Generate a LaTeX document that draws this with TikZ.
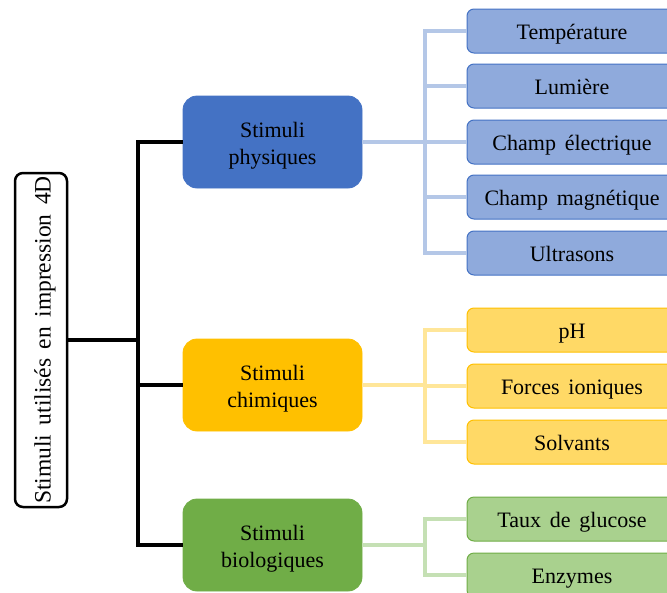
\documentclass[tikz,border=0pt]{standalone}
\usepackage{fontspec}
\setmainfont{Liberation Serif}[WordSpace=1.6]
\usepackage{tikz}
\usetikzlibrary{positioning}
\definecolor{physBlue}{RGB}{68,114,196}
\definecolor{physLight}{RGB}{143,170,220}
\definecolor{physLine}{RGB}{180,199,231}
\definecolor{chimGold}{RGB}{255,192,0}
\definecolor{chimLight}{RGB}{255,217,102}
\definecolor{chimLine}{RGB}{255,230,153}
\definecolor{bioGreen}{RGB}{112,173,71}
\definecolor{bioLight}{RGB}{169,209,142}
\definecolor{bioLine}{RGB}{197,224,180}

\begin{document}
\begin{tikzpicture}[x=1pt, y=-1pt,
    every node/.style={font=\fontsize{22}{27}\selectfont, inner sep=0pt},
    rootbox/.style={rectangle, rounded corners=8pt, draw=black, line width=2.5pt,
                    fill=white, minimum width=334pt, minimum height=52pt, rotate=90,
                    font=\fontsize{23.5}{28}\selectfont, text height=20pt, text depth=1pt},
    catbox/.style={rectangle, rounded corners=14pt, line width=0.8pt,
                   minimum width=179pt, minimum height=92pt, align=center,
                   text height=48pt, text depth=4pt},
    leafbox/.style={rectangle, rounded corners=7pt, line width=1pt,
                    minimum width=210pt, minimum height=44pt,
                    text height=20pt, text depth=3pt},
    trunk/.style={draw=black, line width=3.2pt},
    twig/.style={line width=4pt}]
\useasboundingbox (0,0) rectangle (667,592);

% main node
\node[rootbox] (root) at (41,340) {Stimuli utilisés en impression 4D};

% categories
\node[catbox, fill=physBlue, draw=physBlue] (phys) at (272.5,142) {Stimuli\\physiques};
\node[catbox, fill=chimGold, draw=chimGold] (chim) at (272.5,385) {Stimuli\\chimiques};
\node[catbox, fill=bioGreen, draw=bioGreen] (bio) at (272.5,545) {Stimuli\\biologiques};

% physical stimuli
\node[leafbox, fill=physLight, draw=physBlue] (temp)  at (572,31)  {Température};
\node[leafbox, fill=physLight, draw=physBlue] (lum)   at (572,86)  {Lumière};
\node[leafbox, fill=physLight, draw=physBlue] (elec)  at (572,142) {Champ électrique};
\node[leafbox, fill=physLight, draw=physBlue] (magn)  at (572,197) {Champ magnétique};
\node[leafbox, fill=physLight, draw=physBlue] (ultra) at (572,253) {Ultrasons};

% chemical stimuli
\node[leafbox, fill=chimLight, draw=chimGold] (ph)    at (572,330) {pH};
\node[leafbox, fill=chimLight, draw=chimGold] (ion)   at (572,386) {Forces ioniques};
\node[leafbox, fill=chimLight, draw=chimGold] (solv)  at (572,442) {Solvants};

% biological stimuli
\node[leafbox, fill=bioLight, draw=bioGreen] (gluc)   at (572,519) {Taux de glucose};
\node[leafbox, fill=bioLight, draw=bioGreen] (enz)    at (572,575) {Enzymes};

% joints
\coordinate (rootjoint) at (138,340);
\coordinate (physjoint) at (425,142);
\coordinate (chimjoint) at (425,385);
\coordinate (biojoint)  at (425,545);

% trunk
\draw[trunk] (root.south) -- (rootjoint);
\draw[trunk] (phys.west) -| (rootjoint) |- (bio.west);
\draw[trunk] (chim.west) -- (chim.west -| rootjoint);

% branches
\draw[twig, draw=physLine] (phys.east) -- (physjoint);
\draw[twig, draw=physLine] (temp.west) -| (physjoint) |- (ultra.west);
\draw[twig, draw=physLine] (lum.west) -- (lum.west -| physjoint);
\draw[twig, draw=physLine] (elec.west) -- (physjoint);
\draw[twig, draw=physLine] (magn.west) -- (magn.west -| physjoint);

\draw[twig, draw=chimLine] (chim.east) -- (chimjoint);
\draw[twig, draw=chimLine] (ph.west) -| (chimjoint) |- (solv.west);
\draw[twig, draw=chimLine] (ion.west) -- (ion.west -| chimjoint);

\draw[twig, draw=bioLine] (bio.east) -- (biojoint);
\draw[twig, draw=bioLine] (gluc.west) -| (biojoint) |- (enz.west);
\end{tikzpicture}
\end{document}
